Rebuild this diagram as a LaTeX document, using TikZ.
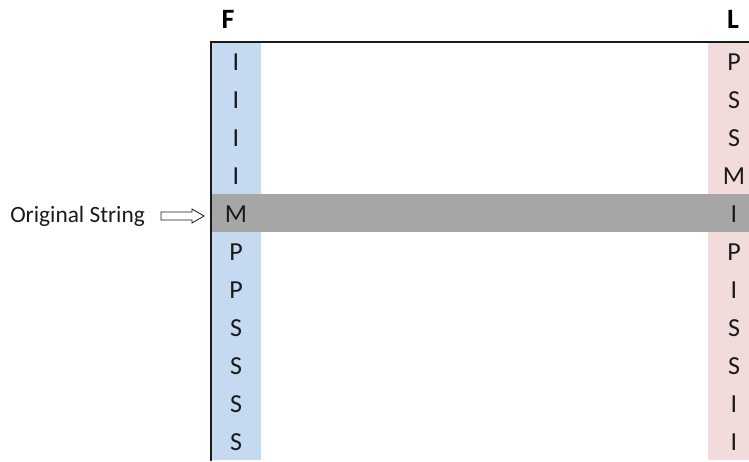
\documentclass[tikz,border=0pt]{standalone}
\usepackage{fontspec}
\setmainfont{Carlito}
\usetikzlibrary{calc}
\definecolor{fcol}{HTML}{C5D9F1}
\definecolor{lcol}{HTML}{F2DCDB}
\definecolor{rowsel}{HTML}{A6A6A6}
\definecolor{ink}{HTML}{1A1A1A}
\tikzset{
  cell/.style={font=\fontsize{19.5}{19.5}\selectfont, text=ink, inner sep=0pt, anchor=center},
  head/.style={font=\fontsize{21}{21}\selectfont\bfseries, text=black, inner sep=0pt},
  frame/.style={line width=1.4pt, draw=ink},
}
\begin{document}
\begin{tikzpicture}[x=0.75pt, y=-0.75pt]
  \useasboundingbox (0,0) rectangle (749,461);
  % column shading
  \fill[fcol] (212,42) rectangle (261,460);
  \fill[lcol] (708,42) rectangle (749,460);
  % selected row
  \fill[rowsel] (212,194) rectangle (749,232);
  % frame: top and left edges
  \draw[frame] (749,42) -- (211,42) -- (211,461);
  % headers
  \node[head] (hF) at (228,19) {F};
  \node[head] (hL) at (733,19) {L};
  % column letters
  \foreach \f/\l [count=\i from 0] in {I/P,I/S,I/S,I/M,M/I,P/P,P/I,S/S,S/S,S/I,S/I} {
    \node[cell] (f\i) at (236,{62+38*\i}) {\f};
    \node[cell] (l\i) at (734,{62+38*\i}) {\l};
  }
  % label and outlined arrow pointing to the original string row
  \node[font=\fontsize{17.5}{17.5}\selectfont, text=ink, anchor=west, inner sep=0pt] (orig) at (10,216) {Original String};
  \coordinate (a0) at (161,216);
  \coordinate (a1) at (204,216);
  \draw[line width=0.6pt, draw=ink, line join=miter]
    ($(a0)+(0,-4)$) -- ($(a1)+(-12,-4)$) -- ($(a1)+(-12,-7)$) -- (a1)
    -- ($(a1)+(-12,7)$) -- ($(a1)+(-12,4)$) -- ($(a0)+(0,4)$) -- cycle;
\end{tikzpicture}
\end{document}
